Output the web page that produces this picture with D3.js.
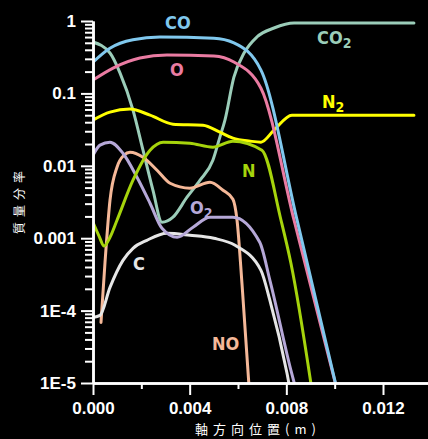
<!DOCTYPE html>
<html><head><meta charset="utf-8">
<script src="https://cdn.jsdelivr.net/npm/d3@7"></script>
<style>
html,body{margin:0;padding:0;background:#000;}
svg{display:block;}
</style></head>
<body>
<script>
// ---- data ----
const xMajorTicks = [0, 0.004, 0.008, 0.012];
const xMajorLabels = ["0.000", "0.004", "0.008", "0.012"];
const xMinorTicks = [0.002, 0.006, 0.010];
const yMajorTicks = [1, 0.1, 0.01, 0.001, 1e-4, 1e-5];
const yMajorLabels = ["1", "0.1", "0.01", "0.001", "1E-4", "1E-5"];
const xTitle = "軸方向位置(m)";
const yTitle = "質量分率";

const coX  = [0, 0.0007, 0.00165, 0.00277, 0.005, 0.00583, 0.00695, 0.00844, 0.0101];
const coY  = [0.27, 0.42, 0.55, 0.6, 0.58, 0.5, 0.21, 0.0018, 8e-6];
const oX   = [0, 0.00083, 0.00194, 0.00306, 0.005, 0.00583, 0.00695, 0.00832, 0.0101];
const oY   = [0.153, 0.224, 0.308, 0.339, 0.328, 0.271, 0.118, 0.00177, 8e-6];
const co2X = [0, 0.000703, 0.00112, 0.001655, 0.00207, 0.00248, 0.002855, 0.00331, 0.00389, 0.00443, 0.00496, 0.00525, 0.00546, 0.00583, 0.00625, 0.00678, 0.00749, 0.00832, 0.01328];
const co2Y = [0.512, 0.361, 0.191, 0.0588, 0.01643, 0.0046, 0.00166, 0.00195, 0.00368, 0.00632, 0.01195, 0.0249, 0.0428, 0.168, 0.361, 0.601, 0.80, 0.938, 0.938];
const n2X  = [0, 0.0007, 0.00153, 0.00236, 0.00331, 0.00455, 0.00525, 0.00579, 0.0065, 0.00695, 0.00749, 0.00823, 0.01328];
const n2Y  = [0.0428, 0.0551, 0.0607, 0.0501, 0.0376, 0.0364, 0.0292, 0.0241, 0.0219, 0.0212, 0.0311, 0.0501, 0.0501];
const nX   = [0, 0.00025, 0.00046, 0.000703, 0.000993, 0.001655, 0.00236, 0.0029, 0.00401, 0.00496, 0.00579, 0.00699, 0.00778, 0.00819, 0.00915];
const nY   = [0.00166, 0.00107, 0.00078, 0.00103, 0.00177, 0.00632, 0.01643, 0.0212, 0.0205, 0.0181, 0.0219, 0.01643, 0.00177, 0.00045, 5e-6];
const o2X  = [0, 0.00029, 0.000703, 0.00124, 0.00182, 0.00236, 0.002855, 0.00348, 0.00414, 0.00484, 0.00579, 0.0069, 0.00732, 0.00819, 0.00852];
const o2Y  = [0.014, 0.0193, 0.0212, 0.0149, 0.00695, 0.00304, 0.00137, 0.00103, 0.00142, 0.00195, 0.00195, 0.000877, 0.000262, 1.49e-5, 5.7e-6];
const cX   = [0, 0.00029, 0.000703, 0.00124, 0.001655, 0.00223, 0.00306, 0.00401, 0.005, 0.00588, 0.00695, 0.00732, 0.00803, 0.00825];
const cY   = [8.05e-5, 8.6e-5, 2.09e-4, 0.000494, 0.000725, 0.000935, 0.00117, 0.0011, 0.000997, 0.000798, 0.00036, 0.000138, 1.35e-5, 5.5e-6];
const noX  = [0.000331, 0.000497, 0.000703, 0.000993, 0.00128, 0.00153, 0.00207, 0.00265, 0.00319, 0.00401, 0.00484, 0.00538, 0.00579, 0.00596, 0.00617, 0.0065];
const noY  = [6.87e-5, 4.64e-4, 0.00334, 0.00957, 0.0140, 0.0154, 0.01315, 0.00869, 0.00574, 0.0049, 0.00593, 0.0046, 0.00345, 0.00177, 0.000223, 5.5e-6];

const seriesNames  = ["CO2", "N2", "NO", "C", "O2", "N", "O", "CO"];
const seriesColors = ["#9bcdb9", "#ffff00", "#f5b898", "#e6e6e6", "#b6a8d8", "#a6d40c", "#ea7ba2", "#80c8ee"];
const seriesXs = [co2X, n2X, noX, cX, o2X, nX, oX, coX];
const seriesYs = [co2Y, n2Y, noY, cY, o2Y, nY, oY, coY];

const labelMain = ["CO", "O", "CO", "N", "N", "O", "C", "NO"];
const labelSub  = ["", "", "2", "2", "", "2", "", ""];
const labelColor= ["#80c8ee", "#ea7ba2", "#9bcdb9", "#ffff00", "#a6d40c", "#b6a8d8", "#e6e6e6", "#f5b898"];
const labelPos  = [[165, 29], [170, 76], [317, 44], [322, 108], [242, 177], [190, 214], [133, 270], [212, 350]];

// ---- chart ----
const W = 428, H = 439;
const svg = d3.select("body").append("svg").attr("width", W).attr("height", H)
  .style("background", "#000");

const x = d3.scaleLinear().domain([0, 0.013862]).range([93, 428]);
const y = d3.scaleLog().domain([1e-5, 1]).range([383, 21]);

svg.append("defs").append("clipPath").attr("id", "clip")
  .append("rect").attr("x", 93).attr("y", 0).attr("width", W - 93).attr("height", 383);

const line = d3.line().x(d => x(d[0])).y(d => y(d[1])).curve(d3.curveMonotoneX);
const g = svg.append("g").attr("clip-path", "url(#clip)");
seriesNames.forEach((name, i) => {
  const pts = seriesXs[i].map((v, j) => [v, seriesYs[i][j]]);
  g.append("path").datum(pts).attr("d", line)
    .attr("fill", "none").attr("stroke", seriesColors[i])
    .attr("stroke-width", 3).attr("stroke-linecap", "round").attr("stroke-linejoin", "round");
});

const yMinor = [];
for (let e = -5; e < 0; e++) for (let k = 2; k <= 9; k++) yMinor.push(k * Math.pow(10, e));

const tickFont = "'Liberation Sans', Arial, sans-serif";
function styleAxis(sel) {
  sel.selectAll("path.domain").attr("stroke", "#fff").attr("stroke-width", 2.5);
  sel.selectAll(".tick line").attr("stroke", "#fff").attr("stroke-width", 2);
  sel.selectAll("text").attr("fill", "#fff").style("font-family", tickFont)
    .style("font-weight", "bold").style("font-size", "17px");
}
svg.append("g").attr("transform", "translate(93,0)")
  .call(d3.axisLeft(y).tickValues(yMinor).tickSize(8).tickSizeOuter(0).tickFormat(""))
  .call(styleAxis);
svg.append("g").attr("transform", "translate(93,0)")
  .call(d3.axisLeft(y).tickValues(yMajorTicks).tickSize(12).tickSizeOuter(0).tickPadding(5)
    .tickFormat((d, i) => yMajorLabels[i]))
  .call(styleAxis);
svg.append("g").attr("transform", "translate(0,383)")
  .call(d3.axisBottom(x).tickValues(xMinorTicks).tickSize(6).tickSizeOuter(0).tickFormat(""))
  .call(styleAxis);
svg.append("g").attr("transform", "translate(0,383)")
  .call(d3.axisBottom(x).tickValues(xMajorTicks).tickSize(12).tickSizeOuter(0).tickPadding(7)
    .tickFormat((d, i) => xMajorLabels[i]))
  .call(styleAxis);

// titles
svg.append("text").attr("x", 195).attr("y", 434).attr("fill", "#fff")
  .style("font-family", "'Noto Sans CJK JP', sans-serif").style("font-size", "13px")
  .style("letter-spacing", "5px").text(xTitle);
svg.append("text").attr("transform", "translate(24,200) rotate(-90)")
  .attr("text-anchor", "middle").attr("fill", "#fff")
  .style("font-family", "'Noto Sans CJK JP', sans-serif").style("font-size", "12px")
  .style("letter-spacing", "5px").text(yTitle);

// series labels
const labFont = "'Liberation Sans Narrow', 'DejaVu Sans Condensed', Arial, sans-serif";
labelMain.forEach((t, i) => {
  const tx = svg.append("text").attr("x", labelPos[i][0]).attr("y", labelPos[i][1])
    .attr("fill", labelColor[i]).style("font-family", labFont)
    .style("font-weight", "bold").style("font-size", "18px");
  tx.append("tspan").text(t);
  if (labelSub[i]) tx.append("tspan").attr("dy", 4).style("font-size", "14px").text(labelSub[i]);
});
</script>
</body></html>
